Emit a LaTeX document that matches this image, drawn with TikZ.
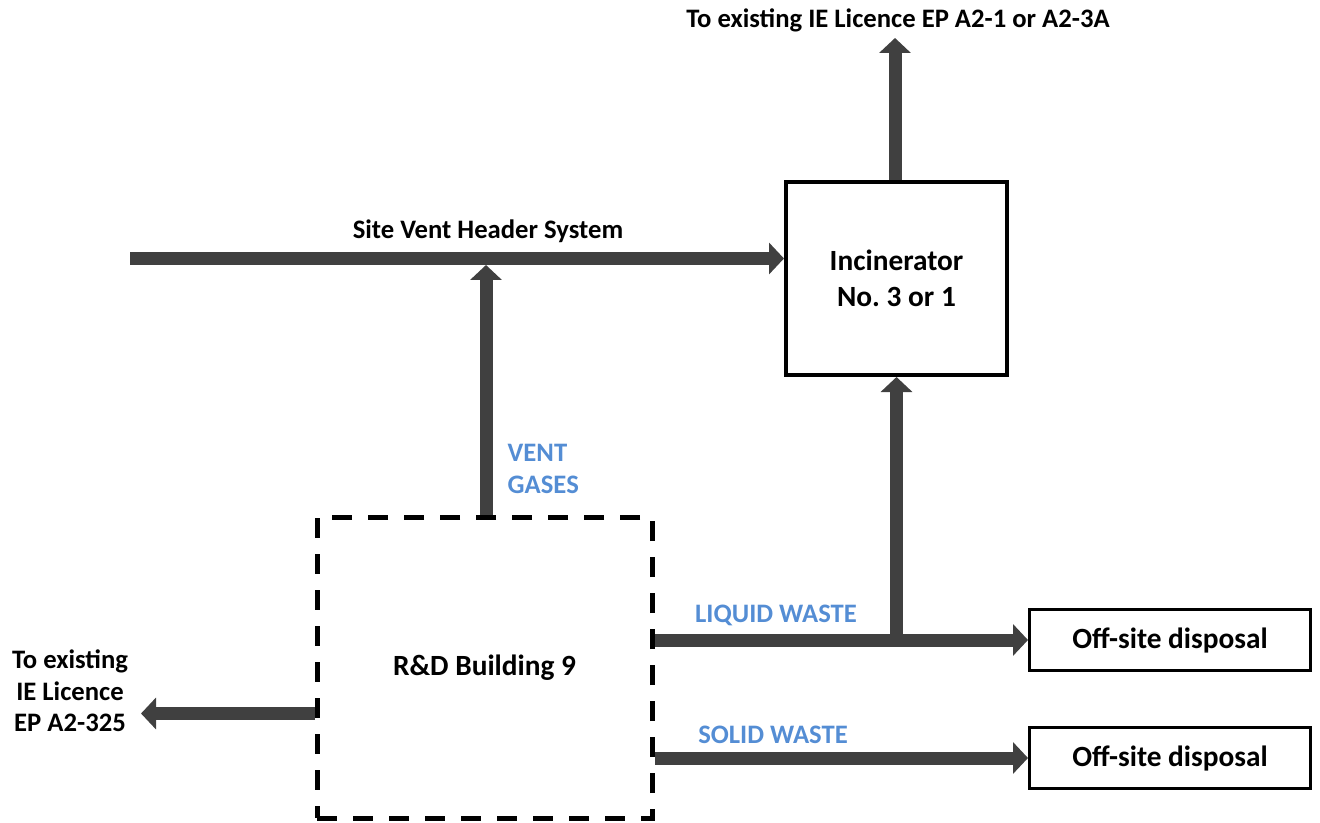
\documentclass[tikz,border=0pt]{standalone}
\usepackage{fontspec}
\setmainfont{Carlito}
\usepackage{xcolor}
\usepackage{tikz}
\usetikzlibrary{calc,positioning}
\usetikzlibrary{arrows.meta}

\definecolor{flowgray}{RGB}{64,64,64}
\definecolor{labelblue}{RGB}{84,141,212}

\begin{document}
\frenchspacing
\begin{tikzpicture}[x=0.75pt, y=-0.75pt,
        every node/.style={font=\bfseries\fontsize{20}{24}\selectfont},
        boxfont/.style={font=\bfseries\fontsize{22}{27}\selectfont},
        procbox/.style={draw, line width=3pt, align=center, inner sep=0pt, boxfont},
        sitebox/.style={draw, line width=3.75pt, dash pattern=on 15pt off 12pt, inner sep=0pt, boxfont},
        offbox/.style={draw, line width=2.25pt, inner sep=0pt, boxfont,
                minimum width=210.75pt, minimum height=46pt},
        flow/.style={draw=flowgray, line width=9.75pt,
                -{Triangle[width=23.25pt, length=11.25pt]}},
        flowlabel/.style={text=labelblue}]

        % frame of the page
        \useasboundingbox (0,0) rectangle (1320,823);

        % Units
        \node[procbox, minimum width=165.75pt, minimum height=144.75pt] (inc) at (896.5,278.5) {Incinerator\\No. 3 or 1};
        \node[sitebox, minimum width=251.25pt, minimum height=225.75pt] (rd) at (484.5,667.5) {R\&D Building 9};
        \node[offbox] (off1) at (1170,640) {Off-site disposal};
        \node[offbox] (off2) at (1170,758) {Off-site disposal};

        % Points of the flows
        \coordinate (hdr) at (130,258.5);
        \coordinate (ventjoin) at (486,265);
        \coordinate (exitA) at (895,38);
        \coordinate (exitB) at (141,713.5);

        % Site vent header
        \draw[flow] (hdr) -- (hdr -| inc.west);
        \node at (488,231) {Site Vent Header System};

        % Vent gases
        \draw[flow] (rd.north -| ventjoin) -- (ventjoin);
        \node[flowlabel, anchor=west, align=left] at (503,469) {VENT\\GASES};

        % Stack
        \draw[flow] (inc.north -| exitA) -- (exitA);
        \node at (898,20) {To existing IE Licence EP A2-1 or A2-3A};

        % Liquid waste
        \draw[flow] (rd.east |- off1) -- (off1.west);
        \draw[flow] (inc.south |- off1) -- (inc.south);
        \node[flowlabel] at (776,615) {LIQUID WASTE};

        % Solid waste
        \draw[flow] (rd.east |- off2) -- (off2.west);
        \node[flowlabel] at (773,735) {SOLID WASTE};

        % Other licence point
        \draw[flow] (rd.west |- exitB) -- (exitB);
        \node[align=center, font=\bfseries\fontsize{20}{23.6}\selectfont] at (70,691) {To existing\\IE Licence\\EP A2-325};

    \end{tikzpicture}
\end{document}
